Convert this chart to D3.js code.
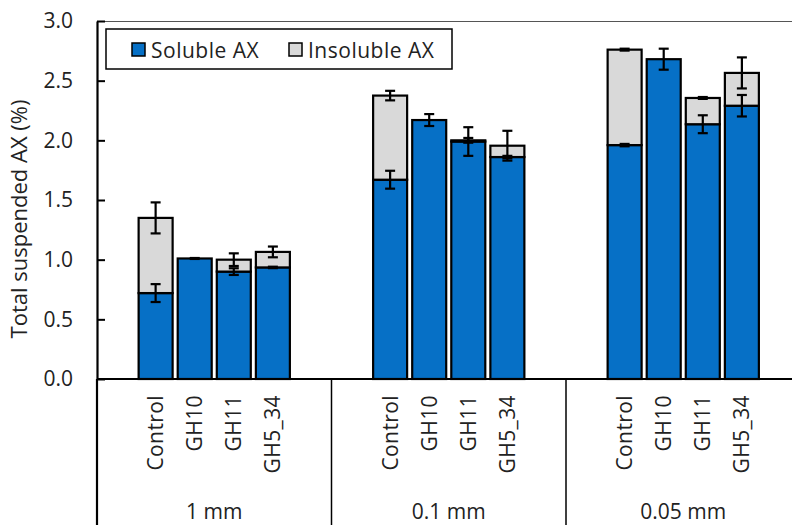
<!DOCTYPE html>
<html>
<head>
<meta charset="utf-8">
<script src="https://cdn.jsdelivr.net/npm/d3@7"></script>
<style>
  body { margin: 0; background: #fff; }
  svg { display: block; font-family: "Open Sans", sans-serif; }
</style>
</head>
<body>
<svg id="chart" width="792" height="525"></svg>
<script>
const sizes = ["1 mm", "0.1 mm", "0.05 mm"];
const treatments = ["Control", "GH10", "GH11", "GH5_34"];

// values per size, in treatment order
const soluble = [
  [0.72, 1.01, 0.90, 0.935],
  [1.67, 2.17, 1.99, 1.86],
  [1.96, 2.68, 2.135, 2.29]
];
const solubleErr = [
  [0.075, 0.004, 0.028, 0.006],
  [0.075, 0.05, 0.12, 0.01],
  [0.01, 0.088, 0.075, 0.09]
];
const insoluble = [
  [0.63, 0.0, 0.10, 0.13],
  [0.705, 0.0, 0.01, 0.095],
  [0.80, 0.0, 0.22, 0.275]
];
const insolubleErr = [
  [0.13, 0, 0.053, 0.045],
  [0.04, 0, 0.02, 0.125],
  [0.008, 0, 0.008, 0.13]
];
const yTicks = [0, 0.5, 1.0, 1.5, 2.0, 2.5, 3.0];

const blue = "#0670c6";
const grey = "#d9d9d9";

const svg = d3.select("#chart");
const plotLeft = 97, plotTop = 21, plotBottom = 379;
const groupW = 234.5;

const y = d3.scaleLinear().domain([0, 3]).range([plotBottom, plotTop]);
const xGroup = d3.scaleBand().domain(sizes).range([plotLeft, plotLeft + groupW * sizes.length]);
const xBar = d3.scaleBand().domain(treatments).range([0, groupW])
  .paddingInner(0.13).paddingOuter(1.065);

// data rows
const rows = [];
sizes.forEach((s, i) => {
  treatments.forEach((t, j) => {
    rows.push({
      size: s, treat: t,
      sol: soluble[i][j], solErr: solubleErr[i][j],
      ins: insoluble[i][j], insErr: insolubleErr[i][j]
    });
  });
});

// plot frame top
svg.append("line")
  .attr("x1", plotLeft).attr("x2", 792)
  .attr("y1", plotTop + 0.5).attr("y2", plotTop + 0.5)
  .attr("stroke", "#555").attr("stroke-width", 1.2);

const bars = svg.append("g")
  .selectAll("g")
  .data(rows)
  .join("g")
  .attr("transform", d => `translate(${xGroup(d.size) + xBar(d.treat)},0)`);

const bw = xBar.bandwidth();

bars.append("rect")
  .attr("x", 0).attr("width", bw)
  .attr("y", d => y(d.sol))
  .attr("height", d => y(0) - y(d.sol))
  .attr("fill", blue).attr("stroke", "#000").attr("stroke-width", 2.2);

bars.filter(d => d.ins > 0).append("rect")
  .attr("x", 0).attr("width", bw)
  .attr("y", d => y(d.sol + d.ins))
  .attr("height", d => y(d.sol) - y(d.sol + d.ins))
  .attr("fill", grey).attr("stroke", "#000").attr("stroke-width", 2.2);

function errBar(sel, val, err) {
  const g = sel.append("g").attr("stroke", "#000").attr("stroke-width", 2.2);
  g.append("line")
    .attr("x1", bw / 2).attr("x2", bw / 2)
    .attr("y1", d => y(val(d) + err(d))).attr("y2", d => y(val(d) - err(d)));
  g.append("line")
    .attr("x1", bw / 2 - 5).attr("x2", bw / 2 + 5)
    .attr("y1", d => y(val(d) + err(d))).attr("y2", d => y(val(d) + err(d)));
  g.append("line")
    .attr("x1", bw / 2 - 5).attr("x2", bw / 2 + 5)
    .attr("y1", d => y(val(d) - err(d))).attr("y2", d => y(val(d) - err(d)));
}
errBar(bars, d => d.sol, d => d.solErr);
errBar(bars.filter(d => d.ins > 0), d => d.sol + d.ins, d => d.insErr);

// y axis
const yAxis = d3.axisLeft(y).tickValues(yTicks).tickFormat(d3.format(".1f"))
  .tickSizeInner(-8).tickSizeOuter(0).tickPadding(24);
const ya = svg.append("g")
  .attr("transform", `translate(${plotLeft},0)`)
  .call(yAxis);
ya.select(".domain").attr("stroke-width", 2.2);
ya.selectAll(".tick line").attr("stroke-width", 2);
ya.selectAll(".tick text")
  .attr("font-size", 21).attr("fill", "#222")
  .style("font-family", "Open Sans");

svg.append("text")
  .attr("transform", `translate(27,${(plotTop + plotBottom) / 2 + 19}) rotate(-90)`)
  .attr("text-anchor", "middle")
  .attr("font-size", 22).attr("fill", "#222")
  .text("Total suspended AX (%)");

// category axis (two levels)
svg.append("line")
  .attr("x1", plotLeft).attr("x2", 792)
  .attr("y1", plotBottom).attr("y2", plotBottom)
  .attr("stroke", "#000").attr("stroke-width", 2);

svg.append("g").selectAll("line")
  .data(sizes)
  .join("line")
  .attr("x1", d => xGroup(d)).attr("x2", d => xGroup(d))
  .attr("y1", plotBottom).attr("y2", 525)
  .attr("stroke", "#000").attr("stroke-width", d => d === sizes[0] ? 2.2 : 1.5);

svg.append("g").selectAll("text")
  .data(rows)
  .join("text")
  .attr("transform", d => `translate(${xGroup(d.size) + xBar(d.treat) + bw / 2 + 7.5},395) rotate(-90)`)
  .attr("text-anchor", "end")
  .attr("font-size", 21).attr("letter-spacing", 0.4).attr("fill", "#222")
  .text(d => d.treat);

svg.append("g").selectAll("text")
  .data(sizes)
  .join("text")
  .attr("x", d => xGroup(d) + groupW / 2)
  .attr("y", 519)
  .attr("text-anchor", "middle")
  .attr("font-size", 21).attr("fill", "#222")
  .text(d => d);

// legend
const lg = svg.append("g");
lg.append("rect")
  .attr("x", 106).attr("y", 29).attr("width", 346).attr("height", 40)
  .attr("fill", "#fff").attr("stroke", "#000").attr("stroke-width", 1.5);
const items = [{ name: "Soluble AX", c: blue, x: 132 }, { name: "Insoluble AX", c: grey, x: 289 }];
items.forEach(it => {
  lg.append("rect")
    .attr("x", it.x).attr("y", 43).attr("width", 13).attr("height", 13)
    .attr("fill", it.c).attr("stroke", "#000").attr("stroke-width", 1.5);
  lg.append("text")
    .attr("x", it.x + 19).attr("y", 57.5)
    .attr("font-size", 21).attr("letter-spacing", 0.5).attr("fill", "#222")
    .text(it.name);
});
</script>
</body>
</html>
